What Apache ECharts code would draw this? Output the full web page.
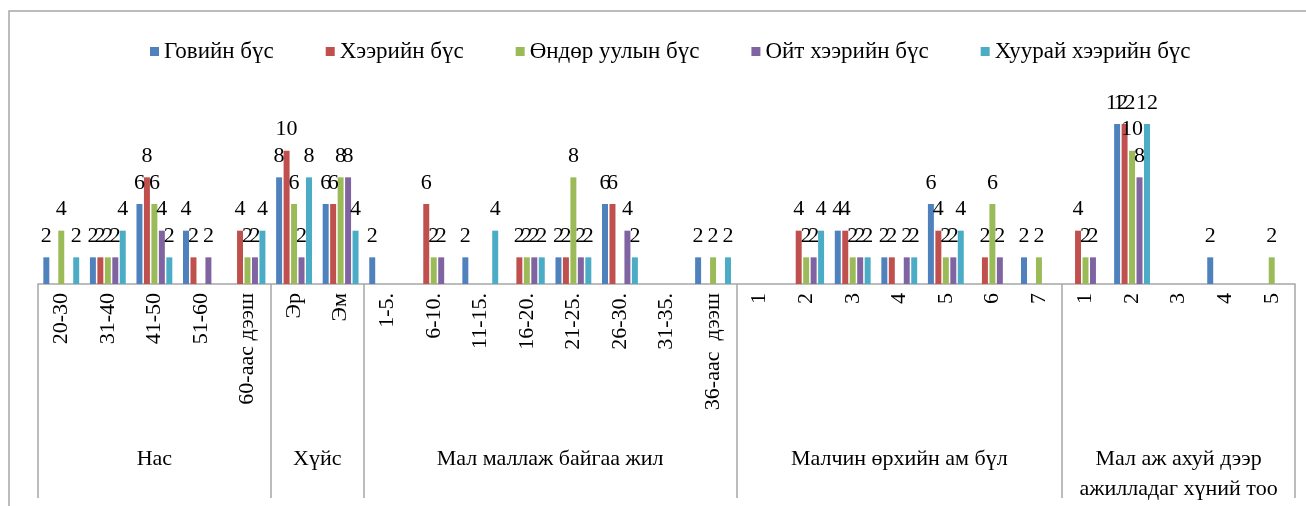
<!DOCTYPE html>
<html>
<head>
<meta charset="utf-8">
<script src="https://cdn.jsdelivr.net/npm/echarts@6/dist/echarts.min.js"></script>
<style>
html,body{margin:0;padding:0;background:#fff;}
#chart{width:1306px;height:506px;}
</style>
</head>
<body>
<div id="chart"></div>
<script>
// Categories (level 1) and groups (level 2)
const categories = [
  '20-30','31-40','41-50','51-60','60-аас дээш',
  'Эр','Эм',
  '1-5.','6-10.','11-15.','16-20.','21-25.','26-30.','31-35.','36-аас  дээш',
  '1','2','3','4','5','6','7',
  '1','2','3','4','5'
];
const groupNames = ['Нас','Хүйс','Мал маллаж байгаа жил','Малчин өрхийн ам бүл','Мал аж ахуй дээр\nажилладаг хүний тоо'];
const groupSizes = [5, 2, 8, 7, 5];

const seriesNames = ['Говийн бүс','Хээрийн бүс','Өндөр уулын бүс','Ойт хээрийн бүс','Хуурай хээрийн бүс'];
const govi    = [2,2,6,4,null, 8,6, 2,null,2,null,2,6,null,2, null,null,4,2,6,null,2, null,12,null,2,null];
const kheer   = [null,2,8,2,4, 10,6, null,6,null,2,2,6,null,null, null,4,4,2,4,2,null, 4,12,null,null,null];
const undur   = [4,2,6,null,2, 6,8, null,2,null,2,8,null,null,2, null,2,2,null,2,6,2, 2,10,null,null,2];
const oit     = [null,2,4,2,2, 2,8, null,2,null,2,2,4,null,null, null,2,2,2,2,2,null, 2,8,null,null,null];
const khuurai = [2,4,2,null,4, 8,4, null,null,4,2,2,2,null,2, null,4,2,2,4,null,null, null,12,null,null,null];
const seriesData = [govi, kheer, undur, oit, khuurai];
const colors = ['#4F81BD','#C0504D','#9BBB59','#8064A2','#4BACC6'];

// group boundaries / centres derived from group sizes
const bounds = [0];
groupSizes.forEach(s => bounds.push(bounds[bounds.length-1] + s));
const centres = groupSizes.map((s,i) => bounds[i] + s/2);

const FONT = '"Liberation Serif","Times New Roman",serif';
const GREY = '#A6A6A6';

const chart = echarts.init(document.getElementById('chart'), null, {renderer:'canvas'});
chart.setOption({
  animation:false,
  backgroundColor:'#fff',
  color: colors,
  graphic:[{type:'rect', silent:true, shape:{x:9,y:11,width:1400,height:600},
    style:{fill:'none', stroke:GREY, lineWidth:1.5}}],
  legend:{
    left:145, top:35, icon:'rect', itemWidth:9, itemHeight:9, itemGap:52,
    textStyle:{fontFamily:FONT, fontSize:23, color:'#000'},
    data: seriesNames
  },
  grid:{left:38, right:11, top:84, bottom:222, containLabel:false},
  xAxis:[{
    type:'category', data:categories, gridIndex:0, position:'bottom',
    axisLine:{show:true, lineStyle:{color:GREY, width:1.5}},
    axisTick:{show:false},
    axisLabel:{rotate:90, interval:0, margin:9, fontFamily:FONT, fontSize:22, color:'#000'}
  },{
    type:'value', gridIndex:0, position:'bottom', min:0, max:bounds[bounds.length-1],
    axisLine:{show:false},
    splitLine:{show:false},
    axisTick:{show:true, customValues:bounds, length:214, lineStyle:{color:GREY, width:1.5}},
    axisLabel:{show:true, customValues:centres, margin:160, verticalAlign:'top', lineHeight:30,
      fontFamily:FONT, fontSize:22, color:'#000',
      formatter:(v)=>{ const i = centres.indexOf(v); return i>=0 ? groupNames[i] : ''; }}
  }],
  yAxis:{type:'value', min:0, max:15, show:false, splitLine:{show:false}},
  series: seriesNames.map((name,i)=>({
    name, type:'bar', xAxisIndex:0, data: seriesData[i],
    barCategoryGap:'23%', barGap:'25%',
    label:{show:true, position:'top', distance:10, fontFamily:FONT, fontSize:22, color:'#000'}
  }))
});
</script>
</body>
</html>
